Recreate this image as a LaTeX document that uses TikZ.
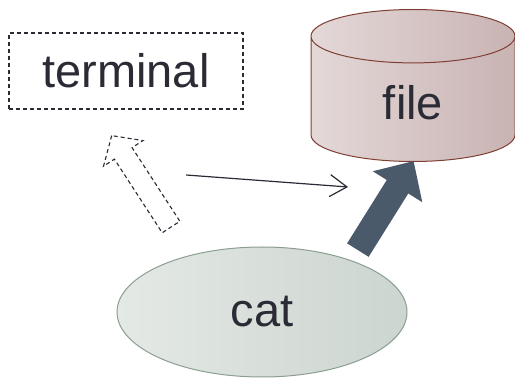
\documentclass[tikz,border=0pt]{standalone}
\usepackage{fontspec}
\setmainfont{Liberation Sans}
\usepackage{xcolor}
\usetikzlibrary{shapes.geometric,shapes.arrows,arrows.meta}

\definecolor{ink}{HTML}{2A2B35}
\definecolor{diskline}{HTML}{7F3F33}
\definecolor{diskl}{HTML}{E4D8D8}
\definecolor{diskr}{HTML}{C9B3B3}
\definecolor{procline}{HTML}{8B9E90}
\definecolor{procl}{HTML}{E4E9E6}
\definecolor{procr}{HTML}{CCD5CF}
\definecolor{slate}{HTML}{4B5A6B}

\begin{document}
\begin{tikzpicture}[x=1pt, y=1pt,
    every node/.style = {font=\fontsize{47}{50}\selectfont, text=ink},
    box/.style   = {draw=ink, dash pattern=on 4pt off 3pt, line width=1.1pt,
                    minimum width=234pt, minimum height=76pt},
    disk/.style  = {cylinder, shape border rotate=90, aspect=0.8,
                    draw=diskline, line width=1pt, left color=diskl, right color=diskr,
                    minimum width=204pt, minimum height=152pt},
    proc/.style  = {ellipse, draw=procline, line width=1pt, left color=procl, right color=procr,
                    minimum width=290pt, minimum height=130pt},
    fat/.style   = {single arrow, fill=slate, inner xsep=0pt, inner ysep=12.5pt,
                    minimum height=105pt, single arrow head extend=16.5pt,
                    single arrow tip angle=88},
    hollow/.style = {single arrow, draw=ink, dash pattern=on 4pt off 3pt, line width=1.1pt,
                    inner xsep=0pt, inner ysep=10pt, minimum height=109pt,
                    single arrow head extend=13pt, single arrow tip angle=96},
    flow/.style  = {draw=ink, line width=1.2pt, -{Straight Barb[length=17pt, width=22pt]}}]
    \useasboundingbox (0,0) rectangle (515,378);
    \node[box]  (term) at (126,307) {terminal};
    \node[disk, anchor=south] (file) at (413,216) {file};
    \node[proc] (cat)  at (262,66)  {cat};
    \coordinate (from) at (186,203);
    \coordinate (to)   at (348,191);
    \draw[flow] (from) -- (to);
    \path (cat.30)    -- (file.south) node[fat, sloped, allow upside down, pos=0.5] {};
    \path (cat.142.5) -- (term.231)   node[hollow, sloped, allow upside down, pos=0.48] {};
\end{tikzpicture}
\end{document}
